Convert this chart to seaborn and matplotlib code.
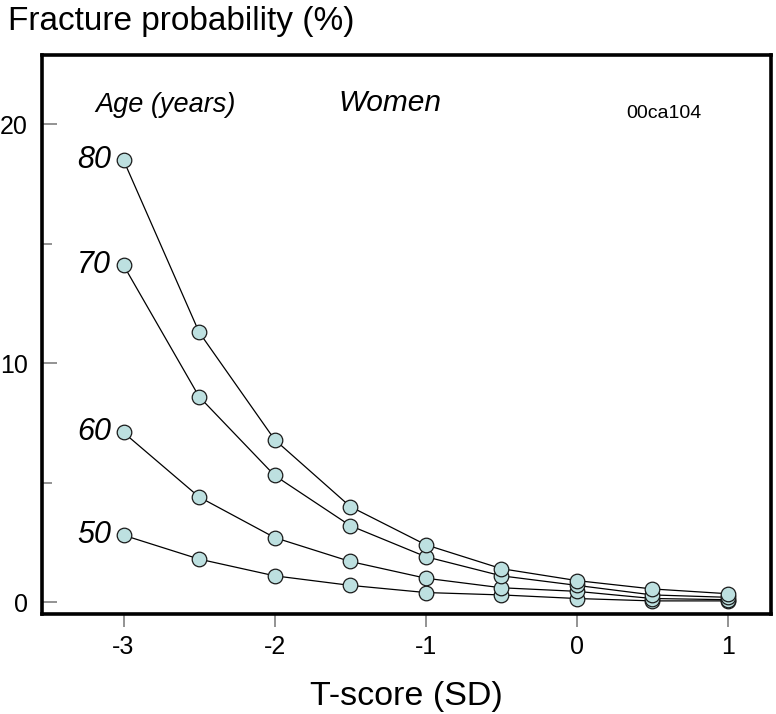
import matplotlib
matplotlib.use("Agg")
import matplotlib.pyplot as plt
import seaborn as sns
import pandas as pd
import numpy as np
from matplotlib.ticker import MultipleLocator

t_scores = [-3, -2.5, -2, -1.5, -1, -0.5, 0, 0.5, 1]
ages = ["50", "60", "70", "80"]
prob_50 = [2.8, 1.8, 1.1, 0.7, 0.4, 0.3, 0.15, 0.05, 0.05]
prob_60 = [7.1, 4.4, 2.7, 1.7, 1.0, 0.6, 0.45, 0.15, 0.1]
prob_70 = [14.1, 8.6, 5.3, 3.2, 1.9, 1.1, 0.7, 0.3, 0.2]
prob_80 = [18.5, 11.3, 6.8, 4.0, 2.4, 1.4, 0.9, 0.55, 0.35]
x_ticks = [-3, -2, -1, 0, 1]
y_ticks = [0, 10, 20]

series = {"50": prob_50, "60": prob_60, "70": prob_70, "80": prob_80}
df = pd.DataFrame({
    "T-score": np.tile(t_scores, len(ages)),
    "prob": np.concatenate([series[a] for a in ages]),
    "age": np.repeat(ages, len(t_scores)),
})

sns.set_theme(style="white")
plt.rcParams["font.family"] = ["Liberation Sans", "DejaVu Sans"]
plt.rcParams["text.color"] = "black"
plt.rcParams["axes.labelcolor"] = "black"
plt.rcParams["xtick.color"] = "black"
plt.rcParams["ytick.color"] = "black"

fig = plt.figure(figsize=(7.76, 7.14), dpi=100)
ax = fig.add_axes([0.054, 0.1400, 0.9396, 0.7830])

sns.lineplot(data=df, x="T-score", y="prob", hue="age", units="age", estimator=None,
             palette={a: "black" for a in ages}, marker="o", markersize=10.5,
             markerfacecolor="#bde0e0", markeredgecolor="#1a1a1a", markeredgewidth=0.9,
             linewidth=0.9, legend=False, ax=ax, sort=False)

ax.set_xlim(-3.54, 1.285)
ax.set_ylim(-0.5, 22.9)
ax.set_xticks(x_ticks)
ax.set_xticklabels(["-3", "-2", "-1", "0", "1"])
ax.set_yticks(y_ticks)
ax.yaxis.set_minor_locator(MultipleLocator(5))
ax.tick_params(axis="y", which="both", left=True, direction="in", length=11, width=1.2,
               color="#808080", labelcolor="black", labelsize=18, pad=10)
ax.tick_params(axis="y", which="minor", length=7)
ax.tick_params(axis="x", bottom=True, direction="out", length=9, width=1.2, color="#808080",
               labelcolor="black", labelsize=18, pad=6)
for s in ax.spines.values():
    s.set_linewidth(2.6)
    s.set_color("black")

ax.set_xlabel("T-score (SD)", fontsize=24.5, labelpad=16, color="black")
ax.set_ylabel("")
fig.text(0.01, 0.97, "Fracture probability (%)", fontsize=24, ha="left", va="center",
         color="black")

for a in ages:
    ax.annotate(a, (t_scores[0], series[a][0]), xytext=(-9, 0), textcoords="offset points",
                ha="right", va="center", fontsize=22, style="italic", color="black")

ax.text(0.073, 0.911, "Age (years)", transform=ax.transAxes, fontsize=19.5, style="italic",
        ha="left", va="center", color="black")
ax.text(0.407, 0.914, "Women", transform=ax.transAxes, fontsize=21.5, style="italic",
        ha="left", va="center", color="black")
ax.text(0.801, 0.896, "00ca104", transform=ax.transAxes, fontsize=14,
        ha="left", va="center", color="black")

fig.savefig("out.png", dpi=100)
